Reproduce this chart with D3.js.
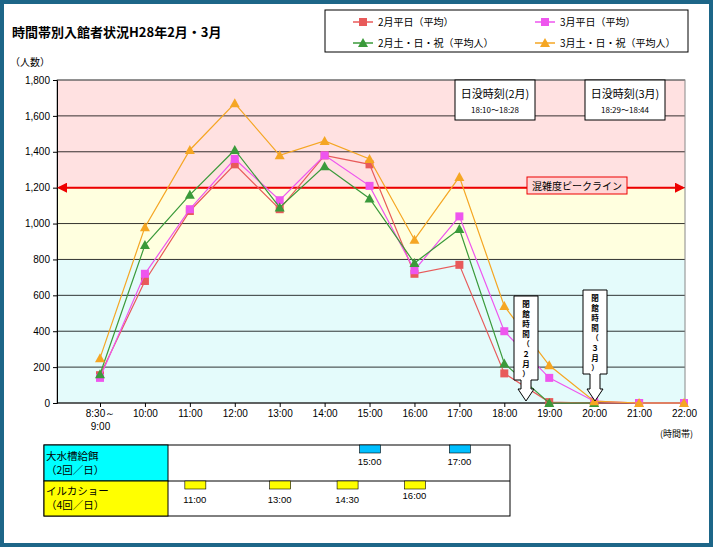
<!DOCTYPE html>
<html><head><meta charset="utf-8">
<script src="https://cdn.jsdelivr.net/npm/d3@7/dist/d3.min.js"></script>
<style>body{margin:0;background:#fff}svg{font-family:"Noto Sans CJK JP","DejaVu Sans",sans-serif}</style>
</head><body><svg id="c" width="713" height="547"></svg>
<script>
const categories=["8:30～9:00","10:00","11:00","12:00","13:00","14:00","15:00","16:00","17:00","18:00","19:00","20:00","21:00","22:00"];
const febWeekday=[155,680,1070,1330,1080,1380,1330,720,770,165,5,0,0,0];
const marWeekday=[140,720,1080,1360,1130,1380,1210,740,1040,400,140,10,0,0];
const febHoliday=[160,880,1160,1410,1090,1320,1140,780,970,220,0,0,null,null];
const marHoliday=[250,980,1410,1670,1380,1460,1360,910,1260,540,210,10,0,0];
const seriesNames=["2月平日（平均）","3月平日（平均）","2月土・日・祝（平均人）","3月土・日・祝（平均人）"];
const yTicks=[0,200,400,600,800,1000,1200,1400,1600,1800];
const bands=[[0,800,"#e4fbfb"],[800,1200,"#ffffdf"],[1200,1800,"#ffe1e1"]];
const feedTimes=["15:00","17:00"], showTimes=["11:00","13:00","14:30","16:00"];
const peak=1200;

const svg=d3.select("#c");
svg.append("rect").attr("x",2).attr("y",2).attr("width",709).attr("height",543).attr("fill","#fff").attr("stroke","#1d6688").attr("stroke-width",4);
const L=57,R=685,T=80,B=403;
const x=d3.scalePoint().domain(categories).range([100,684]);
const y=d3.scaleLinear().domain([0,1800]).range([B,T]);
bands.forEach(b=>svg.append("rect").attr("x",L).attr("width",R-L).attr("y",y(b[1])).attr("height",y(b[0])-y(b[1])).attr("fill",b[2]));
yTicks.slice(1).forEach(t=>svg.append("line").attr("x1",L).attr("x2",R).attr("y1",y(t)).attr("y2",y(t)).attr("stroke","#000").attr("stroke-width",0.8));
svg.append("rect").attr("x",L).attr("y",T).attr("width",R-L).attr("height",B-T).attr("fill","none").attr("stroke","#888");
const ya=svg.append("g").attr("transform",`translate(${L},0)`).call(d3.axisLeft(y).tickValues(yTicks).tickFormat(d3.format(",")).tickSize(4));
ya.selectAll("text").attr("font-size",10).attr("font-family","Liberation Sans");
const xa=svg.append("g").attr("transform",`translate(0,${B})`).call(d3.axisBottom(x).tickSize(4).tickFormat(""));
xa.select(".domain").attr("d",`M${L},0H${R}`);
xa.selectAll(".tick").each(function(d){const g=d3.select(this);const parts=d.split("～");
 const t=g.append("text").attr("fill","#000").attr("font-size",10).attr("font-family","Liberation Sans").attr("text-anchor","middle").attr("y",14);
 if(parts.length>1){t.append("tspan").attr("x",0).text(parts[0]+"～");t.append("tspan").attr("x",0).attr("dy",13).text(parts[1]);}else t.text(d);});
svg.append("text").attr("x",10).attr("y",66).attr("font-size",10).text("（人数）");
svg.append("text").attr("x",660).attr("y",437).attr("font-size",9).text("(時間帯)");
svg.append("text").attr("x",12).attr("y",37).attr("font-size",13).attr("font-weight","bold").text("時間帯別入館者状況H28年2月・3月");

svg.append("defs").html('<marker id="ar" viewBox="0 0 10 10" refX="8" refY="5" markerWidth="5" markerHeight="5" orient="auto-start-reverse"><path d="M0,0L10,5L0,10z" fill="#e00"/></marker>');
svg.append("line").attr("x1",L+2).attr("x2",R-2).attr("y1",y(peak)).attr("y2",y(peak)).attr("stroke","#e00").attr("stroke-width",2).attr("marker-start","url(#ar)").attr("marker-end","url(#ar)");

const series=[[febWeekday,"#e85a5a","sq"],[marWeekday,"#ee55ee","sq"],[febHoliday,"#3a9a3a","tri"],[marHoliday,"#f5a623","tri"]];
const line=d3.line().defined(d=>d!=null).x((d,i)=>x(categories[i])).y(d=>y(d));
series.forEach(([data,c,s])=>{
 svg.append("path").attr("d",line(data)).attr("fill","none").attr("stroke",c).attr("stroke-width",1.2);
 data.forEach((v,i)=>{if(v==null)return;const cx=x(categories[i]),cy=y(v);
  if(s=="sq")svg.append("rect").attr("x",cx-4).attr("y",cy-4).attr("width",8).attr("height",8).attr("fill",c);
  else svg.append("path").attr("d",`M${cx},${cy-5}L${cx+5},${cy+4}L${cx-5},${cy+4}Z`).attr("fill",c);});
});
svg.append("rect").attr("x",527).attr("y",177).attr("width",100).attr("height",17).attr("fill","#ffd6d6").attr("stroke","#e00");
svg.append("text").attr("x",577).attr("y",190).attr("text-anchor","middle").attr("font-size",10).text("混雑度ピークライン");

[[455,"日没時刻(2月)","18:10～18:28"],[585,"日没時刻(3月)","18:29～18:44"]].forEach(([bx,a,b])=>{
 svg.append("rect").attr("x",bx).attr("y",80).attr("width",80).attr("height",40).attr("fill","#fff").attr("stroke","#000");
 svg.append("text").attr("x",bx+40).attr("y",98).attr("text-anchor","middle").attr("font-size",11).text(a);
 svg.append("text").attr("x",bx+40).attr("y",113).attr("text-anchor","middle").attr("font-size",8).text(b);});
[[526,296,"閉館時間（２月）"],[595,290,"閉館時間（３月）"]].forEach(([cx,ty,t])=>{
 const bot=ty+84;
 svg.append("path").attr("d",`M${cx-12},${ty}H${cx+12}V${bot}H${cx+5}V${B-14}H${cx+8}L${cx},${B-2}L${cx-8},${B-14}H${cx-5}V${bot}H${cx-12}Z`).attr("fill","#fff").attr("stroke","#000");
 const tx=svg.append("text").attr("font-size",7.5).attr("text-anchor","middle").attr("font-weight","bold");
 [...t].forEach((ch,i)=>tx.append("tspan").attr("x",cx).attr("y",ty+11+i*10).text(ch));});

svg.append("rect").attr("x",325).attr("y",10).attr("width",363).attr("height",42).attr("fill","#fff").attr("stroke","#000");
series.forEach(([d,c,s],i)=>{const lx=353+(i%2)*182, ly=22+Math.floor(i/2)*21;
 svg.append("line").attr("x1",lx).attr("x2",lx+20).attr("y1",ly).attr("y2",ly).attr("stroke",c).attr("stroke-width",1.5);
 if(s=="sq")svg.append("rect").attr("x",lx+6).attr("y",ly-4).attr("width",8).attr("height",8).attr("fill",c);
 else svg.append("path").attr("d",`M${lx+10},${ly-5}L${lx+15},${ly+4}L${lx+5},${ly+4}Z`).attr("fill",c);
 svg.append("text").attr("x",lx+25).attr("y",ly+4).attr("font-size",10).text(seriesNames[i]);});

svg.append("rect").attr("x",44).attr("y",445).attr("width",466).attr("height",71).attr("fill","#fff").attr("stroke","#000");
svg.append("rect").attr("x",44).attr("y",445).attr("width",124).attr("height",36).attr("fill","#00ffff").attr("stroke","#000");
svg.append("rect").attr("x",44).attr("y",481).attr("width",124).attr("height",35).attr("fill","#ffff00").attr("stroke","#000");
svg.append("line").attr("x1",168).attr("x2",510).attr("y1",481).attr("y2",481).attr("stroke","#000");
[["大水槽給餌",460],["（2回／日）",474],["イルカショー",495],["（4回／日）",509]].forEach(([t,ty])=>svg.append("text").attr("x",46).attr("y",ty).attr("font-size",10.5).text(t));
const tx=t=>{const [h,m]=t.split(":").map(Number);return x("10:00")+(h-10+m/60)*(x("11:00")-x("10:00"));};
feedTimes.forEach(t=>{const c=tx(t);svg.append("rect").attr("x",c-10).attr("y",445).attr("width",21).attr("height",8).attr("fill","#00bfff").attr("stroke","#000").attr("stroke-width",0.6);
 svg.append("text").attr("x",c).attr("y",465).attr("text-anchor","middle").attr("font-size",9.5).attr("font-family","Liberation Sans").text(t);});
showTimes.forEach(t=>{const c=tx(t)+(t=="11:00"?5:0);svg.append("rect").attr("x",c-10).attr("y",481).attr("width",21).attr("height",8).attr("fill","#ffff00").attr("stroke","#000").attr("stroke-width",0.6);
 svg.append("text").attr("x",c).attr("y",t=="16:00"?499:503).attr("text-anchor","middle").attr("font-size",9.5).attr("font-family","Liberation Sans").text(t);});
</script></body></html>
